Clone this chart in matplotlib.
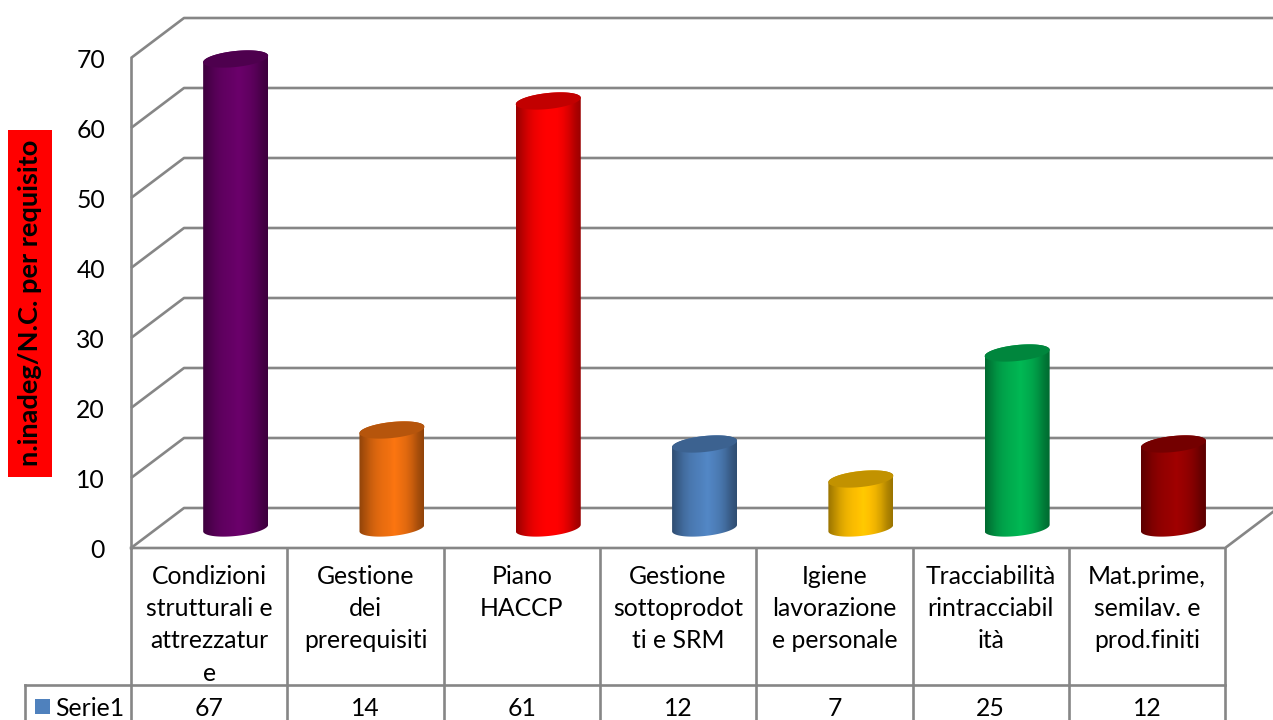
import numpy as np
import matplotlib
matplotlib.use("Agg")
import matplotlib.pyplot as plt
from matplotlib.patches import Polygon, Rectangle

categories = ["Condizioni\nstrutturali e\nattrezzatur\ne", "Gestione\ndei\nprerequisiti", "Piano\nHACCP",
              "Gestione\nsottoprodot\nti e SRM", "Igiene\nlavorazione\ne personale",
              "Tracciabilità\nrintracciabil\nità", "Mat.prime,\nsemilav. e\nprod.finiti"]
values = [67, 14, 61, 12, 7, 25, 12]
colors = ["#660066", "#F07010", "#FF0000", "#4F81BD", "#FFC000", "#00B050", "#990000"]
y_ticks = [0, 10, 20, 30, 40, 50, 60, 70]
series_name = "Serie1"
y_label = "n.inadeg/N.C. per requisito"

plt.rcParams["font.family"] = ["Lato", "DejaVu Sans"]
W, H = 1273, 720
X0, Y0, CW, UH = 131.0, 548.0, 156.3, 7.0   # plot origin px, px per category, px per unit
DX, DY = 53.0, 40.0                          # 3D depth in px
GRAY = "#868686"
FS = 17.8

fig = plt.figure(figsize=(W / 100, H / 100), dpi=100)
ax = fig.add_axes([0, 0, 1, 1])
ax.set_xlim(-X0 / CW, (W - X0) / CW)
ax.set_ylim((Y0 - H) / UH, Y0 / UH)
ax.axis("off")

def px(x, y):
    return (x - X0) / CW, (Y0 - y) / UH

n = len(categories)
ddx, ddy = DX / CW, DY / UH
LW = 1.9

# walls and gridlines
for t in y_ticks:
    ax.plot([0, ddx, ddx + n + 1], [t, t + ddy, t + ddy], color=GRAY, lw=LW, solid_capstyle="butt", zorder=1)
ax.plot([0, 0], [0, y_ticks[-1]], color=GRAY, lw=LW, zorder=1)
ax.plot([0, n, n + ddx], [0, 0, ddy], color=GRAY, lw=LW, zorder=1)

# table
table_left = (25 - X0) / CW
row_y = (Y0 - 685) / UH
bottom = (Y0 - H) / UH
for i in range(n + 1):
    ax.plot([i, i], [0, bottom], color=GRAY, lw=LW, zorder=2)
ax.plot([table_left, n], [row_y, row_y], color=GRAY, lw=LW, zorder=2)
ax.plot([table_left, table_left], [row_y, bottom], color=GRAY, lw=LW, zorder=2)

# cylinders
A, B, SHEAR = 32.5, 8.0, 0.10
th = np.linspace(0, 2 * np.pi, 121)
grad = np.array([0.60, 0.72, 0.84, 0.92, 0.97, 1.0, 1.05, 1.0, 0.94, 0.84, 0.70, 0.60])
xs_g = np.linspace(0, 1, 200)
prof = np.interp(xs_g, np.linspace(0, 1, len(grad)), grad)
for i, (v, c) in enumerate(zip(values, colors)):
    cx = i + 0.5 + 0.5 * ddx
    base = 0.5 * ddy
    top = base + v
    ex = A * np.cos(th) / CW
    ey_rel = (SHEAR * A * np.cos(th) + B * np.sin(th)) / UH
    up = th <= np.pi
    body_x = np.r_[ex[up], ex[~up]]
    body_y = np.r_[top + ey_rel[up], base + ey_rel[~up]]
    body = Polygon(np.c_[body_x + cx, body_y], closed=True, transform=ax.transData, fc="none", ec="none")
    ax.add_patch(body)
    rgb = np.array(matplotlib.colors.to_rgb(c))
    img = np.clip(prof[None, :, None] * rgb[None, None, :], 0, 1)
    im = ax.imshow(img, extent=[cx - A / CW, cx + A / CW, base - B / UH * 2, top + B / UH * 2],
                   aspect="auto", zorder=3, interpolation="bilinear")
    im.set_clip_path(body)
    cap = Polygon(np.c_[cx + ex, top + ey_rel], closed=True, fc=rgb * 0.76, ec="none", zorder=4)
    ax.add_patch(cap)

ax.set_xlim(-X0 / CW, (W - X0) / CW)
ax.set_ylim((Y0 - H) / UH, Y0 / UH)

# y axis labels
LIFT = 2.0 / UH
for t in y_ticks:
    ax.text(px(105, 0)[0], t - LIFT, str(t), ha="right", va="center", fontsize=FS, color="black", zorder=5)

# y title
x0, y0 = px(8, 477)
x1, y1 = px(52, 130)
ax.add_patch(Rectangle((x0, y0), x1 - x0, y1 - y0, fc="#FF0000", ec="none", zorder=5))
ax.text((x0 + x1) / 2, (y0 + y1) / 2 + 1 / UH, y_label, rotation=90, ha="center", va="center",
        fontsize=19.6, fontweight="bold", color="black", zorder=6)

# table text
LINE0, LSTEP = 576.0, 32.4
for i, (lab, v) in enumerate(zip(categories, values)):
    for j, line in enumerate(lab.split("\n")):
        ax.text(i + 0.5, px(0, LINE0 + j * LSTEP)[1], line, ha="center", va="center", fontsize=FS, color="black", zorder=5)
    ax.text(i + 0.5, px(0, 708)[1], str(v), ha="center", va="center", fontsize=FS, color="black", zorder=5)

sx0, sy0 = px(35, 714)
sx1, sy1 = px(50, 699)
ax.add_patch(Rectangle((sx0, sy0), sx1 - sx0, sy1 - sy0, fc="#4F81BD", ec="none", zorder=5))
ax.text(px(55, 0)[0], px(0, 708)[1], series_name, ha="left", va="center", fontsize=FS, color="black", zorder=5)

fig.savefig("out.png", dpi=100, facecolor="white")
